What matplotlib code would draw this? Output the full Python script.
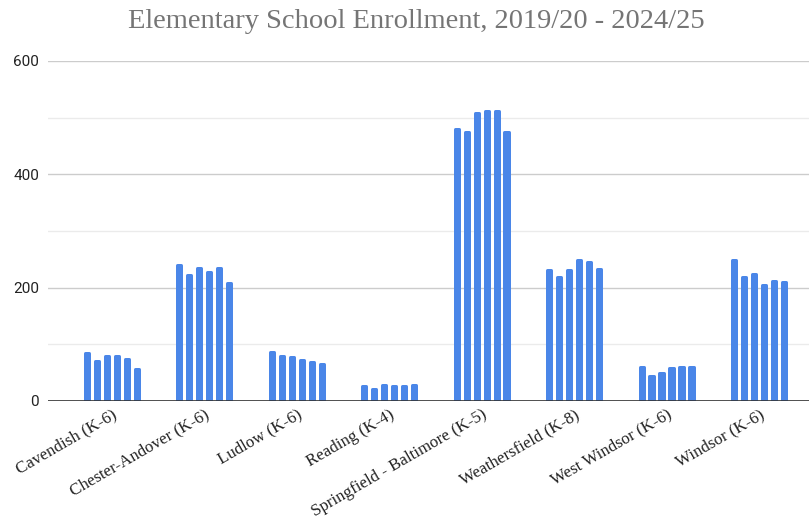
import matplotlib
matplotlib.use("Agg")
import matplotlib.pyplot as plt
import numpy as np

schools = [
    "Cavendish (K-6)",
    "Chester-Andover (K-6)",
    "Ludlow (K-6)",
    "Reading (K-4)",
    "Springfield - Baltimore (K-5)",
    "Weathersfield (K-8)",
    "West Windsor (K-6)",
    "Windsor (K-6)",
]
years = ["2019/20", "2020/21", "2021/22", "2022/23", "2023/24", "2024/25"]

# enrollment per school, one list per school year
enroll_2019 = [84, 240, 87, 26, 480, 231, 60, 249]
enroll_2020 = [71, 222, 80, 21, 475, 218, 45, 218]
enroll_2021 = [80, 235, 77, 29, 508, 231, 50, 225]
enroll_2022 = [80, 227, 72, 26, 511, 248, 58, 205]
enroll_2023 = [75, 235, 69, 26, 511, 246, 60, 212]
enroll_2024 = [56, 209, 65, 29, 475, 233, 60, 210]
series = [enroll_2019, enroll_2020, enroll_2021, enroll_2022, enroll_2023, enroll_2024]

y_ticks = [0, 200, 400, 600]

BLUE = "#4a86e8"

fig = plt.figure(figsize=(8.09, 5.27), dpi=100)
ax = fig.add_axes([48 / 809, 1 - 401 / 527, 1 - 48 / 809, (401 - 61) / 527])

x = np.arange(len(schools))
pitch = 0.108
edge_px = 3.0
edge_pt = edge_px * 72 / 100
px_per_unit = 761 / (7.54 + 0.689)
fill_w = 0.078 - edge_px / px_per_unit
for i, vals in enumerate(series):
    offs = (i - 2.5) * pitch
    ax.bar(x + offs, vals, width=fill_w, color=BLUE, edgecolor=BLUE,
           linewidth=edge_pt, joinstyle="round", zorder=3, label=years[i])

ax.set_xlim(-0.689, 7.54)
ax.set_ylim(0, 600)
ax.set_yticks(y_ticks)
ax.set_yticks([100, 300, 500], minor=True)
ax.grid(axis="y", which="major", color="#cccccc", linewidth=1.0, zorder=0)
ax.grid(axis="y", which="minor", color="#ebebeb", linewidth=1.0, zorder=0)
ax.axhline(0, color="#333333", linewidth=1.2, zorder=4)
ax.tick_params(axis="y", which="both", length=0, pad=6.5, labelsize=11,
               labelcolor="#222222")
for t in ax.get_yticklabels():
    t.set_family("Roboto")
ax.tick_params(axis="x", length=0, pad=4)
ax.set_xticks(x)
ax.set_xticklabels(schools, rotation=30, ha="right", rotation_mode="anchor",
                   family="Liberation Serif", fontsize=12.2, color="#222222")
for s in ax.spines.values():
    s.set_visible(False)

fig.text(416.5 / 809, 1 - 28.5 / 527, "Elementary School Enrollment, 2019/20 - 2024/25",
         ha="center", va="baseline", family="Liberation Serif", fontsize=20.5,
         color="#757575")

fig.savefig("out.png", dpi=100)
